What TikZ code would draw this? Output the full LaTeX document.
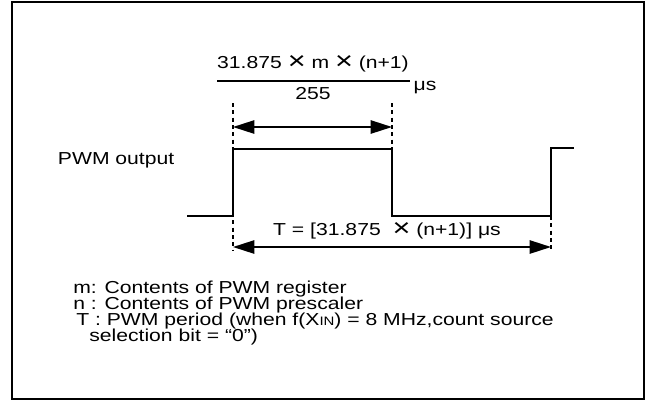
\documentclass[tikz,border=0pt]{standalone}
\usepackage{fontspec}
\setmainfont{Liberation Sans}[FakeStretch=1.22]
\usetikzlibrary{arrows.meta}

\begin{document}
\begin{tikzpicture}[x=0.75pt,y=-0.75pt,
    font=\fontsize{13}{15}\selectfont,
    wave/.style={line width=1.2pt},
    guide/.style={line width=0.9pt,dash pattern=on 3pt off 2.5pt},
    dim/.style={line width=1.2pt,{Triangle[length=16pt,width=10pt]}-{Triangle[length=16pt,width=10pt]}}]
    \useasboundingbox (0,0) rectangle (647,401);

    % Rahmen
    \draw[line width=1.6pt] (12,2) rectangle (644,399);

    % Ausgangssignal
    \draw[wave] (187,216) -- (233,216) -- (233,149) -- (392,149) -- (392,216)
        -- (551,216) -- (551,148) -- (574,148);

    % Hilfslinien
    \coordinate (h1) at (233,103);
    \coordinate (h2) at (392,103);
    \coordinate (b1) at (233,251);
    \coordinate (b2) at (551,251);
    \draw[guide] (h1) -- (b1);
    \draw[guide] (h2) -- (392,149);
    \draw[guide] (551,216) -- (b2);

    % Massangaben
    \coordinate (a1) at (233,127);
    \coordinate (a2) at (392,127);
    \coordinate (c1) at (233,247);
    \coordinate (c2) at (551,247);
    \draw[dim] (a1) -- (a2);
    \draw[dim] (c1) -- (c2);

    % Beschriftungen
    \node (num) at (313,64) {31.875 \raisebox{-0.08em}{\scalebox{1.45}{×}} m \raisebox{-0.08em}{\scalebox{1.45}{×}} (n+1)};
    \draw[line width=1pt] (217,81) -- (410,81);
    \node (den) at (313,94) {255};
    \node[anchor=west] (unit) at (409,88) {μs};
    \node[anchor=east] (out) at (179,160) {PWM output};
    \node (per) at (387,231) {T = [31.875\ \ \raisebox{-0.08em}{\scalebox{1.45}{×}} (n+1)] μs};

    % Legende
    \node[anchor=west,inner sep=0pt] (lm) at (73,289) {m: Contents of PWM register};
    \node[anchor=west,inner sep=0pt] (ln) at (73,305) {n : Contents of PWM prescaler};
    \node[anchor=west,inner sep=0pt] (lt) at (76,321) {T : PWM period (when f(X{\fontsize{9.2}{10}\selectfont IN}) = 8 MHz,count source};
    \node[anchor=west,inner sep=0pt] (ls) at (89,337) {selection bit = “0”)};
\end{tikzpicture}
\end{document}
